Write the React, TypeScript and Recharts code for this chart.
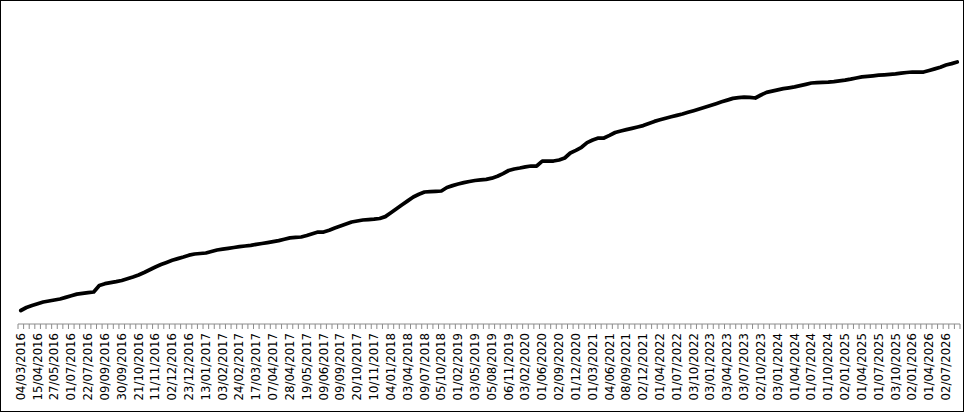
import React from "react";
import { LineChart, Line, XAxis, YAxis } from "recharts";

const tickLabels = [
  "04/03/2016", "15/04/2016", "27/05/2016", "01/07/2016", "22/07/2016", "09/09/2016",
  "30/09/2016", "21/10/2016", "11/11/2016", "02/12/2016", "23/12/2016", "13/01/2017",
  "03/02/2017", "24/02/2017", "17/03/2017", "07/04/2017", "28/04/2017", "19/05/2017",
  "09/06/2017", "09/09/2017", "20/10/2017", "10/11/2017", "04/01/2018", "03/04/2018",
  "09/07/2018", "05/10/2018", "01/02/2019", "03/05/2019", "05/08/2019", "06/11/2019",
  "03/02/2020", "01/06/2020", "02/09/2020", "01/12/2020", "01/03/2021", "04/06/2021",
  "08/09/2021", "02/12/2021", "01/04/2022", "01/07/2022", "03/10/2022", "03/01/2023",
  "03/04/2023", "03/07/2023", "02/10/2023", "03/01/2024", "01/04/2024", "01/07/2024",
  "01/10/2024", "02/01/2025", "01/04/2025", "01/07/2025", "03/10/2025", "02/01/2026",
  "01/04/2026", "02/07/2026",
];

const indexValues = [
  13.5, 16.5, 18.5, 20.2, 22, 23, 24, 25, 26.6, 28.2, 29.9, 30.7, 31.4, 32,
  38.5, 40.3, 41.3, 42.3, 43.5, 45.2, 47, 49, 51.5, 54.3, 57, 59.5, 61.6, 63.7,
  65.4, 67, 68.8, 70, 70.5, 71, 72.5, 74, 74.9, 75.7, 76.5, 77.3, 78, 78.7,
  79.6, 80.5, 81.4, 82.4, 83.4, 84.8, 86.1, 86.6, 87, 88.5, 90.3, 92, 92, 93.7,
  95.9, 97.9, 99.9, 102, 103, 104, 104.4, 104.8, 105.5, 107.4, 111.3, 115.3, 119.2, 123.1,
  127, 129.7, 132, 132.3, 132.6, 133, 136.5, 138.4, 140, 141.4, 142.5, 143.5, 144.2, 144.7,
  145.8, 147.7, 150.4, 153.5, 155, 156, 157.2, 158, 158, 162.8, 163, 163, 164, 166,
  171, 173.6, 176.7, 181.4, 184, 186, 186, 188.6, 191.5, 193, 194.3, 195.6, 197, 198.4,
  200.6, 202.6, 204.2, 205.8, 207.2, 208.6, 210, 211.7, 213.3, 215, 216.7, 218.5, 220.3, 222.2,
  223.9, 225.6, 226.3, 226.8, 226.7, 226, 229, 231.6, 232.9, 234.2, 235.4, 236.2, 237.1, 238.4,
  239.7, 241, 241.3, 241.6, 241.9, 242.4, 243.1, 243.8, 244.8, 246, 247.1, 247.6, 248.2, 248.8,
  249.2, 249.7, 250.2, 250.9, 251.5, 252, 252, 252, 253.5, 255.1, 256.8, 259, 260.4, 262,
];

const LABEL_STEP = 3;

const data = indexValues.map((v, i) => ({ i, v }));
const labelTicks = tickLabels.map((_, k) => k * LABEL_STEP);
const minorTicks = Array.from({ length: indexValues.length + 1 }, (_, j) => j - 0.5);
const xDomain = [-0.5, indexValues.length - 0.5];

const LabelTick = (props: any) => {
  const { x, y, payload } = props;
  const k = Math.round(payload.value / LABEL_STEP);
  return (
    <text
      x={x}
      y={y}
      transform={`rotate(-90 ${x} ${y})`}
      textAnchor="end"
      dominantBaseline="central"
      fontFamily="DejaVu Sans"
      fontSize={11.7}
      fill="#000"
    >
      {tickLabels[k]}
    </text>
  );
};

const EmptyTick = () => <g />;

export default function App() {
  return (
    <div
      style={{
        position: "absolute",
        left: 0,
        top: 0,
        width: 962,
        height: 410,
        border: "1px solid #000",
        background: "#fff",
      }}
    >
      <LineChart
        width={962}
        height={410}
        data={data}
        margin={{ top: 9, right: 3, left: 17, bottom: 0 }}
      >
        <XAxis
          xAxisId="a"
          dataKey="i"
          type="number"
          domain={xDomain}
          ticks={minorTicks}
          interval={0}
          height={6}
          tickSize={5}
          tick={EmptyTick}
          tickLine={{ stroke: "#8c8c8c" }}
          axisLine={{ stroke: "#8c8c8c" }}
        />
        <XAxis
          xAxisId="b"
          dataKey="i"
          type="number"
          domain={xDomain}
          ticks={labelTicks}
          interval={0}
          height={81}
          tickSize={0}
          tickMargin={3}
          tickLine={false}
          axisLine={false}
          tick={(p: any) => <LabelTick {...p} />}
        />
        <YAxis hide domain={[0, 314]} />
        <Line
          xAxisId="a"
          dataKey="v"
          type="linear"
          stroke="none"
          strokeWidth={0}
          dot={false}
          activeDot={false}
          legendType="none"
          isAnimationActive={false}
        />
        <Line
          xAxisId="b"
          dataKey="v"
          type="linear"
          stroke="#000"
          strokeWidth={3.75}
          strokeLinecap="round"
          strokeLinejoin="round"
          dot={false}
          activeDot={false}
          isAnimationActive={false}
        />
      </LineChart>
    </div>
  );
}
